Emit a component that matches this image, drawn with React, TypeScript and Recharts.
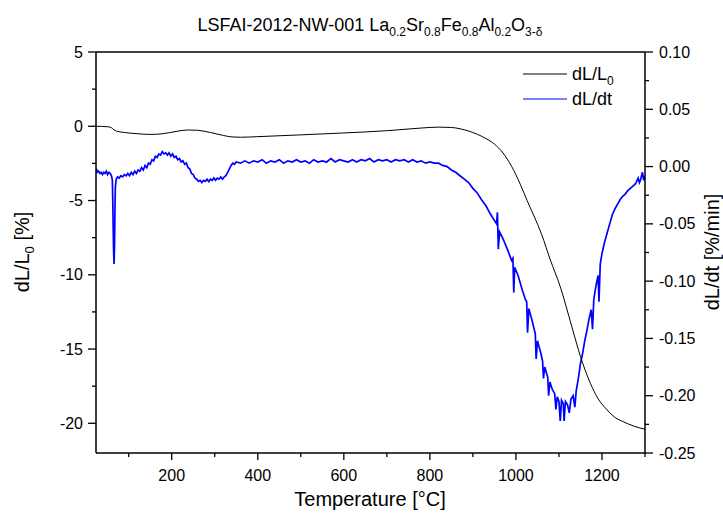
import React from "react";
import { LineChart, Line, XAxis, YAxis, ReferenceLine } from "recharts";

// dL/L0 [%] (left axis)
const blackT = [24, 50, 60, 66, 72, 90, 120, 150, 180, 210, 237, 260, 290, 320, 340, 360, 400, 500, 600, 700, 780, 820, 850, 870, 890, 910, 930, 950, 970, 990, 1010, 1026, 1060, 1080, 1103, 1130, 1150, 1173, 1190, 1212, 1230, 1250, 1275, 1300];
const blackV = [0, -0.03, -0.1, -0.25, -0.33, -0.42, -0.5, -0.55, -0.5, -0.35, -0.25, -0.27, -0.42, -0.62, -0.72, -0.74, -0.7, -0.58, -0.45, -0.3, -0.12, -0.06, -0.08, -0.17, -0.32, -0.54, -0.82, -1.2, -1.8, -2.7, -3.9, -5.0, -7.3, -9.0, -10.8, -13.5, -15.5, -17.3, -18.3, -19.1, -19.6, -19.9, -20.2, -20.4];

// dL/dt [%/min] (right axis)
const blueT = [24, 27, 30, 33, 36, 39, 42, 45, 48, 51, 54, 57, 60, 62, 63, 64, 65, 66, 67, 68, 69, 71, 74, 78, 82, 86, 90, 94, 98, 102, 106, 110, 114, 118, 122, 126, 130, 134, 138, 142, 146, 150, 154, 158, 162, 166, 170, 174, 178, 182, 186, 190, 194, 198, 202, 206, 210, 214, 218, 222, 226, 230, 234, 238, 242, 246, 250, 254, 258, 262, 266, 270, 274, 278, 282, 286, 290, 294, 298, 302, 306, 310, 314, 318, 322, 326, 330, 334, 338, 342, 346, 350,
  360, 370, 380, 390, 400, 410, 420, 430, 440, 450, 460, 470, 480, 490, 500, 510, 520, 530, 540, 550, 560, 570, 580, 590, 600, 610, 620, 630, 640, 650, 660, 670, 680, 690, 700, 710, 720, 730, 740, 750, 760, 770, 780, 790, 800, 810, 820,
  830, 840, 850, 860, 870, 880, 890, 900, 910, 920, 930, 940, 950, 955, 957, 959, 962, 970, 980, 990, 993, 995, 997, 1005, 1015, 1022, 1025, 1027, 1030, 1038, 1045, 1047, 1050, 1058, 1062, 1064, 1067, 1074, 1076, 1079, 1085, 1090, 1093, 1096, 1100, 1103, 1106, 1110, 1112, 1115, 1120, 1124, 1128, 1133, 1137, 1140, 1145, 1150, 1155, 1160, 1165, 1170, 1175, 1178, 1181, 1186, 1191, 1193, 1196, 1200, 1206, 1212, 1218, 1224, 1230, 1236, 1242, 1248, 1254, 1260, 1266, 1272, 1278, 1284, 1287, 1290, 1294, 1297, 1300];
const blueV = [-0.001, -0.005, -0.004, -0.006, -0.005, -0.007, -0.005, -0.006, -0.004, -0.007, -0.005, -0.006, -0.008, -0.012, -0.03, -0.055, -0.075, -0.085, -0.07, -0.04, -0.018, -0.011, -0.009, -0.01, -0.008, -0.009, -0.007, -0.008, -0.006, -0.008, -0.005, -0.007, -0.004, -0.006, -0.003, -0.004, -0.001, -0.003, 0.001, -0.001, 0.003, 0.002, 0.006, 0.005, 0.009, 0.008, 0.011, 0.01, 0.013, 0.011, 0.012, 0.01, 0.012, 0.009, 0.011, 0.008, 0.009, 0.006, 0.007, 0.004, 0.005, 0.002, 0.003, -0.001, -0.002, -0.006, -0.007, -0.01, -0.011, -0.013, -0.012, -0.014, -0.012, -0.013, -0.011, -0.013, -0.011, -0.012, -0.01, -0.012, -0.01, -0.011, -0.009, -0.011, -0.009, -0.008, -0.005, -0.002, 0.001, 0.003, 0.002, 0.004,
  0.003, 0.005, 0.003, 0.005, 0.004, 0.006, 0.003, 0.005, 0.004, 0.006, 0.003, 0.005, 0.004, 0.006, 0.004, 0.005, 0.003, 0.006, 0.004, 0.005, 0.004, 0.007, 0.004, 0.006, 0.005, 0.004, 0.006, 0.004, 0.006, 0.005, 0.007, 0.004, 0.006, 0.005, 0.006, 0.004, 0.006, 0.005, 0.006, 0.004, 0.006, 0.004, 0.005, 0.003, 0.004, 0.003, 0.003,
  0.001, 0.0, -0.003, -0.005, -0.008, -0.011, -0.014, -0.019, -0.023, -0.029, -0.034, -0.041, -0.047, -0.05, -0.04, -0.072, -0.057, -0.063, -0.072, -0.082, -0.08, -0.11, -0.088, -0.095, -0.108, -0.116, -0.118, -0.145, -0.124, -0.135, -0.146, -0.168, -0.152, -0.163, -0.17, -0.185, -0.175, -0.184, -0.2, -0.188, -0.195, -0.198, -0.212, -0.201, -0.205, -0.222, -0.204, -0.207, -0.222, -0.205, -0.208, -0.215, -0.203, -0.2, -0.21, -0.196, -0.185, -0.172, -0.163, -0.152, -0.143, -0.133, -0.125, -0.142, -0.116, -0.104, -0.095, -0.118, -0.085, -0.076, -0.066, -0.058, -0.05, -0.042, -0.037, -0.033, -0.029, -0.026, -0.024, -0.021, -0.019, -0.017, -0.015, -0.01, -0.014, -0.011, -0.005, -0.012, -0.008];

const xTicks = [100, 200, 300, 400, 500, 600, 700, 800, 900, 1000, 1100, 1200, 1300];
const leftTicks = [-20, -17.5, -15, -12.5, -10, -7.5, -5, -2.5, 0, 2.5, 5];
const rightTicks = [-0.25, -0.225, -0.2, -0.175, -0.15, -0.125, -0.1, -0.075, -0.05, -0.025, 0, 0.025, 0.05, 0.075, 0.1];

const blackData = blackT.map((t, i) => ({ t, v: blackV[i] }));
const blueData = blueT.map((t, i) => ({ t, v: blueV[i] }));

const FONT = "'Liberation Sans', Arial, sans-serif";

const isMult = (v: number, m: number) => Math.abs(Math.round(v / m) * m - v) < 1e-9;

const XTick = (props: any) => {
  const { x, y, payload } = props;
  const major = isMult(payload.value, 200);
  return (
    <g>
      <line x1={x} y1={y} x2={x} y2={y + (major ? 7 : 4)} stroke="#000" strokeWidth={1.3} />
      {major && (
        <text x={x} y={y + 28} textAnchor="middle" fontSize={16} fontFamily={FONT} fill="#000">
          {payload.value}
        </text>
      )}
    </g>
  );
};

const LeftTick = (props: any) => {
  const { x, y, payload } = props;
  const major = isMult(payload.value, 5);
  return (
    <g>
      <line x1={x} y1={y} x2={x - (major ? 8 : 4)} y2={y} stroke="#000" strokeWidth={1.3} />
      {major && (
        <text x={x - 13} y={y + 5.5} textAnchor="end" fontSize={16} fontFamily={FONT} fill="#000">
          {payload.value}
        </text>
      )}
    </g>
  );
};

const RightTick = (props: any) => {
  const { x, y, payload } = props;
  const major = isMult(payload.value, 0.05);
  return (
    <g>
      <line x1={x} y1={y} x2={x + (major ? 8 : 4)} y2={y} stroke="#000" strokeWidth={1.3} />
      {major && (
        <text x={x + 14} y={y + 5.5} textAnchor="start" fontSize={16} fontFamily={FONT} fill="#000">
          {payload.value.toFixed(2)}
        </text>
      )}
    </g>
  );
};

export default function App() {
  return (
    <div style={{ position: "absolute", left: 0, top: 0, width: 723, height: 515, background: "#fff" }}>
      <LineChart width={723} height={515} margin={{ top: 52, right: 0, bottom: 0, left: 0 }}>
        <XAxis
          dataKey="t"
          type="number"
          domain={[24, 1300]}
          ticks={xTicks}
          allowDataOverflow
          height={62}
          tickSize={0}
          tickMargin={0}
          tickLine={false}
          axisLine={{ stroke: "#000", strokeWidth: 1.5 }}
          tick={<XTick />}
          interval={0}
        />
        <YAxis
          yAxisId="left"
          orientation="left"
          type="number"
          domain={[-22, 5]}
          ticks={leftTicks}
          allowDataOverflow
          width={96}
          tickSize={0}
          tickMargin={0}
          tickLine={false}
          axisLine={{ stroke: "#000", strokeWidth: 1.5 }}
          tick={<LeftTick />}
          interval={0}
        />
        <YAxis
          yAxisId="right"
          orientation="right"
          type="number"
          domain={[-0.25, 0.1]}
          ticks={rightTicks}
          allowDataOverflow
          width={78}
          tickSize={0}
          tickMargin={0}
          tickLine={false}
          axisLine={{ stroke: "#000", strokeWidth: 1.5 }}
          tick={<RightTick />}
          interval={0}
        />
        <ReferenceLine yAxisId="left" y={5} stroke="#000" strokeWidth={1.5} />
        <Line
          yAxisId="right"
          data={blueData}
          dataKey="v"
          type="linear"
          stroke="#0000ff"
          strokeWidth={1.7}
          dot={false}
          isAnimationActive={false}
        />
        <Line
          yAxisId="left"
          data={blackData}
          dataKey="v"
          type="monotone"
          stroke="#000"
          strokeWidth={1}
          dot={false}
          isAnimationActive={false}
        />
      </LineChart>
      <svg width={723} height={515} style={{ position: "absolute", left: 0, top: 0, pointerEvents: "none" }}>
        <text x={370} y={31} textAnchor="middle" fontSize={18} fontFamily={FONT} fill="#000">
          LSFAI-2012-NW-001 La<tspan fontSize={12} dy={5}>0.2</tspan>
          <tspan dy={-5}>Sr</tspan><tspan fontSize={12} dy={5}>0.8</tspan>
          <tspan dy={-5}>Fe</tspan><tspan fontSize={12} dy={5}>0.8</tspan>
          <tspan dy={-5}>Al</tspan><tspan fontSize={12} dy={5}>0.2</tspan>
          <tspan dy={-5}>O</tspan><tspan fontSize={12} dy={5}>3-δ</tspan>
        </text>
        <line x1={523} y1={74} x2={567} y2={74} stroke="#000" strokeWidth={1} />
        <text x={572} y={80} fontSize={18} fontFamily={FONT} fill="#000">
          dL/L<tspan fontSize={12} dy={5}>0</tspan>
        </text>
        <line x1={523} y1={99} x2={567} y2={99} stroke="#0000ff" strokeWidth={1} />
        <text x={572} y={105} fontSize={18} fontFamily={FONT} fill="#000">dL/dt</text>
        <text x={370} y={506} textAnchor="middle" fontSize={20} fontFamily={FONT} fill="#000">Temperature [°C]</text>
        <text transform="translate(29,252) rotate(-90)" textAnchor="middle" fontSize={20} fontFamily={FONT} fill="#000">
          dL/L<tspan fontSize={13} dy={5}>0</tspan><tspan dy={-5}> [%]</tspan>
        </text>
        <text transform="translate(719,252) rotate(-90)" textAnchor="middle" fontSize={20} fontFamily={FONT} fill="#000">
          dL/dt [%/min]
        </text>
      </svg>
    </div>
  );
}
